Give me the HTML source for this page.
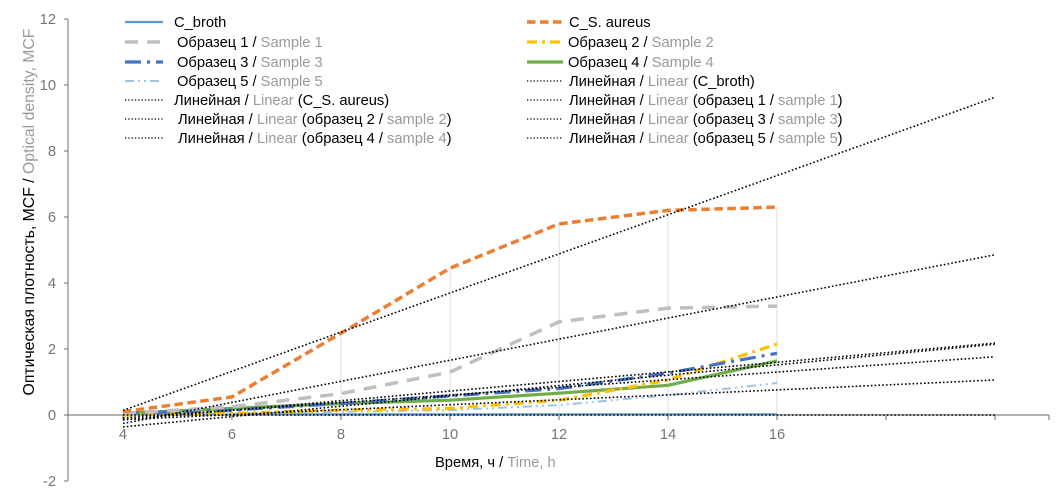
<!DOCTYPE html>
<html><head><meta charset="utf-8"><style>
html,body{margin:0;padding:0;background:#fff;}
svg{display:block;font-family:"Liberation Sans",Arial,sans-serif;}
.t{font-size:14.7px;fill:#000;}
.g{fill:#9a9a9a;}
.tk{font-size:14.7px;fill:#767676;}
</style></head><body>
<svg width="1064" height="498" viewBox="0 0 1064 498" xmlns="http://www.w3.org/2000/svg">
<rect width="1064" height="498" fill="#fff"/>
<!-- high-low lines -->
<g stroke="#dcdcdc" stroke-width="1">
<line x1="123" y1="411.7" x2="123" y2="415"/>
<line x1="232" y1="396.9" x2="232" y2="415"/>
<line x1="341" y1="333.2" x2="341" y2="415"/>
<line x1="450" y1="268.2" x2="450" y2="415"/>
<line x1="559" y1="223.9" x2="559" y2="415"/>
<line x1="668" y1="210.4" x2="668" y2="415"/>
<line x1="777" y1="207.1" x2="777" y2="415"/>
</g>
<!-- axes -->
<g stroke="#868686" stroke-width="1.2">
<line x1="68" y1="19" x2="68" y2="481"/>
<line x1="64" y1="19" x2="68" y2="19"/>
<line x1="64" y1="85" x2="68" y2="85"/>
<line x1="64" y1="151" x2="68" y2="151"/>
<line x1="64" y1="217" x2="68" y2="217"/>
<line x1="64" y1="283" x2="68" y2="283"/>
<line x1="64" y1="349" x2="68" y2="349"/>
<line x1="64" y1="415" x2="68" y2="415"/>
<line x1="64" y1="481" x2="68" y2="481"/>
<line x1="68" y1="415" x2="1049" y2="415"/>
<line x1="123" y1="415" x2="123" y2="420"/>
<line x1="232" y1="415" x2="232" y2="420"/>
<line x1="341" y1="415" x2="341" y2="420"/>
<line x1="450" y1="415" x2="450" y2="420"/>
<line x1="559" y1="415" x2="559" y2="420"/>
<line x1="668" y1="415" x2="668" y2="420"/>
<line x1="777" y1="415" x2="777" y2="420"/>
<line x1="886" y1="415" x2="886" y2="420"/>
<line x1="995" y1="415" x2="995" y2="420"/>
<line x1="1049" y1="415" x2="1049" y2="420"/>
</g>
<!-- y tick labels -->
<g class="tk" text-anchor="end">
<text x="56" y="24">12</text>
<text x="56" y="90">10</text>
<text x="56" y="156">8</text>
<text x="56" y="222">6</text>
<text x="56" y="288">4</text>
<text x="56" y="354">2</text>
<text x="56" y="420">0</text>
<text x="56" y="486">-2</text>
</g>
<!-- x tick labels -->
<g class="tk" text-anchor="middle">
<text x="123" y="439">4</text>
<text x="232" y="439">6</text>
<text x="341" y="439">8</text>
<text x="450" y="439">10</text>
<text x="559" y="439">12</text>
<text x="668" y="439">14</text>
<text x="777" y="439">16</text>
</g>
<!-- axis titles -->
<text class="t" x="435" y="467">Время, ч / <tspan class="g">Time, h</tspan></text>
<text class="t" style="font-size:15.8px" transform="translate(34,212) rotate(-90)" text-anchor="middle">Оптическая плотность, MCF / <tspan class="g">Optical density, MCF</tspan></text>
<!-- series -->
<g fill="none" stroke-linejoin="round">
<polyline stroke="#5b9bd5" stroke-width="2.2" points="123,414.3 232,414.3 341,414.3 450,414.3 559,414.3 668,414.3 777,414.3"/>
<polyline stroke="#9dc3e6" stroke-width="2" stroke-dasharray="9 4 2 4 2 4" points="123,415 232,413.4 341,411.7 450,410.1 559,405.1 668,395.2 777,383"/>
<polyline stroke="#70ad47" stroke-width="3.2" points="123,413.4 232,408.4 341,403.5 450,400.2 559,393.2 668,385.3 777,360.9"/>
<polyline stroke="#ffc000" stroke-width="3.2" stroke-dasharray="10 5 3 5" points="123,415 232,413.4 341,410.1 450,408.4 559,400.2 668,380 777,344"/>
<polyline stroke="#4472c4" stroke-width="3.2" stroke-dasharray="16 6 3 6" points="123,413.4 232,410.1 341,403.5 450,395.9 559,388.6 668,373.1 777,353.3"/>
<polyline stroke="#bfbfbf" stroke-width="3.5" stroke-dasharray="13 9" points="123,413.4 232,406.8 341,393.6 450,372.1 559,321.9 668,308.1 777,306.1"/>
<polyline stroke="#ed7d31" stroke-width="3.5" stroke-dasharray="8.5 4.5" points="123,411.7 232,396.9 341,333.2 450,268.2 559,223.9 668,210.4 777,207.1"/>
</g>
<!-- trendlines -->
<g stroke="#000" stroke-width="1.6" stroke-dasharray="1.6 2.2" fill="none">
<line x1="123" y1="415" x2="995" y2="415"/>
<line x1="123" y1="410.4" x2="995" y2="97.3"/>
<line x1="123" y1="423.5" x2="995" y2="254.8"/>
<line x1="123" y1="426.9" x2="995" y2="344.2"/>
<line x1="123" y1="419.9" x2="995" y2="343.1"/>
<line x1="123" y1="417.9" x2="995" y2="356.8"/>
<line x1="123" y1="419.6" x2="995" y2="380"/>
</g>
<!-- legend -->
<g fill="none">
<line x1="125" y1="22" x2="163" y2="22" stroke="#5b9bd5" stroke-width="2.2"/>
<line x1="125" y1="42" x2="163" y2="42" stroke="#bfbfbf" stroke-width="3.5" stroke-dasharray="13 9"/>
<line x1="125" y1="62" x2="163" y2="62" stroke="#4472c4" stroke-width="3.2" stroke-dasharray="16 6 3 6"/>
<line x1="125" y1="81" x2="163" y2="81" stroke="#9dc3e6" stroke-width="2" stroke-dasharray="9 4 2 4 2 4"/>
<g stroke="#000" stroke-width="1.3" stroke-dasharray="1.3 2">
<line x1="125" y1="100" x2="163" y2="100"/>
<line x1="125" y1="119" x2="163" y2="119"/>
<line x1="125" y1="138" x2="163" y2="138"/>
<line x1="527" y1="81" x2="563" y2="81"/>
<line x1="527" y1="100" x2="563" y2="100"/>
<line x1="527" y1="119" x2="563" y2="119"/>
<line x1="527" y1="138" x2="563" y2="138"/>
</g>
<line x1="527" y1="22" x2="563" y2="22" stroke="#ed7d31" stroke-width="3.5" stroke-dasharray="8.5 4.5"/>
<line x1="527" y1="42" x2="563" y2="42" stroke="#ffc000" stroke-width="3.2" stroke-dasharray="10 5 3 5"/>
<line x1="527" y1="62" x2="563" y2="62" stroke="#70ad47" stroke-width="3.2"/>
</g>
<g class="t">
<text x="174" y="27">C_broth</text>
<text x="177" y="47">Образец 1 / <tspan class="g">Sample 1</tspan></text>
<text x="177" y="67">Образец 3 / <tspan class="g">Sample 3</tspan></text>
<text x="177" y="86">Образец 5 / <tspan class="g">Sample 5</tspan></text>
<text x="174" y="105">Линейная / <tspan class="g">Linear</tspan> (C_S. aureus)</text>
<text x="178" y="124">Линейная / <tspan class="g">Linear</tspan> (образец 2 / <tspan class="g">sample 2</tspan>)</text>
<text x="178" y="143">Линейная / <tspan class="g">Linear</tspan> (образец 4 / <tspan class="g">sample 4</tspan>)</text>
<text x="569" y="27">C_S. aureus</text>
<text x="568" y="47">Образец 2 / <tspan class="g">Sample 2</tspan></text>
<text x="568" y="67">Образец 4 / <tspan class="g">Sample 4</tspan></text>
<text x="569" y="86">Линейная / <tspan class="g">Linear</tspan> (C_broth)</text>
<text x="569" y="105">Линейная / <tspan class="g">Linear</tspan> (образец 1 / <tspan class="g">sample 1</tspan>)</text>
<text x="569" y="124">Линейная / <tspan class="g">Linear</tspan> (образец 3 / <tspan class="g">sample 3</tspan>)</text>
<text x="569" y="143">Линейная / <tspan class="g">Linear</tspan> (образец 5 / <tspan class="g">sample 5</tspan>)</text>
</g>
</svg>
</body></html>
